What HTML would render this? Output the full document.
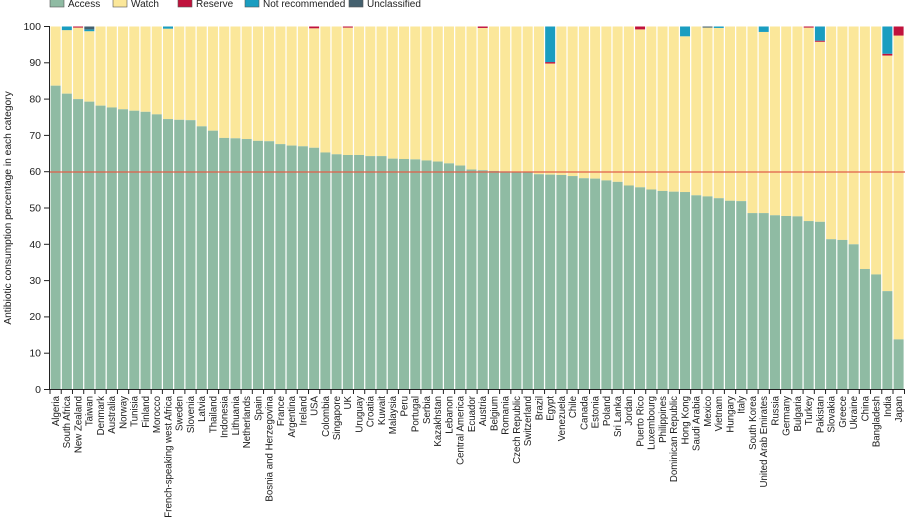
<!DOCTYPE html>
<html><head><meta charset="utf-8"><style>
body{margin:0;background:#fff;width:905px;height:518px;overflow:hidden}
svg{font-family:"Liberation Sans",sans-serif;display:block}
</style></head><body>
<svg id="s" width="905" height="518" viewBox="0 0 905 518">
<g id="bars"></g>
<line x1="49" y1="172" x2="905" y2="172" stroke="#e0604a" stroke-width="1.2"/>
<g stroke="#222" stroke-width="1">
<line x1="49.5" y1="26" x2="49.5" y2="390"/>
<line x1="49" y1="389.5" x2="905" y2="389.5"/>
</g>
<g id="yt" font-size="10.5" fill="#222" text-anchor="end">
<text x="41" y="30">100</text><text x="41" y="66">90</text><text x="41" y="102.5">80</text><text x="41" y="139">70</text><text x="41" y="175">60</text><text x="41" y="211.5">50</text><text x="41" y="248">40</text><text x="41" y="284">30</text><text x="41" y="320">20</text><text x="41" y="356.5">10</text><text x="41" y="393">0</text>
</g>
<g id="yticks" stroke="#222"></g>
<g id="xticks" stroke="#222"></g>
<text transform="translate(11,208) rotate(-90)" font-size="10.2" fill="#222" text-anchor="middle">Antibiotic consumption percentage in each category</text>
<g font-size="10" fill="#222">
<rect x="50" y="-2" width="14" height="9" fill="#8fbba3" stroke="#555" stroke-width="0.6"/><text x="68" y="7">Access</text>
<rect x="113" y="-2" width="14" height="9" fill="#fbe79a" stroke="#555" stroke-width="0.6"/><text x="131" y="7">Watch</text>
<rect x="178" y="-2" width="14" height="9" fill="#c0123c" stroke="#555" stroke-width="0.6"/><text x="196" y="7">Reserve</text>
<rect x="245" y="-2" width="14" height="9" fill="#1a9dc0" stroke="#555" stroke-width="0.6"/><text x="263" y="7">Not recommended</text>
<rect x="349" y="-2" width="14" height="9" fill="#44606e" stroke="#555" stroke-width="0.6"/><text x="367" y="7">Unclassified</text>
</g>
<g id="labels" font-size="9.7" fill="#222" text-anchor="end">
<text>Algeria</text><text>South Africa</text><text>New Zealand</text><text>Taiwan</text><text>Denmark</text><text>Australia</text><text>Norway</text><text>Tunisia</text><text>Finland</text><text>Morocco</text><text>French-speaking west Africa</text><text>Sweden</text><text>Slovenia</text><text>Latvia</text><text>Thailand</text><text>Indonesia</text><text>Lithuania</text><text>Netherlands</text><text>Spain</text><text>Bosnia and Herzegovina</text><text>France</text><text>Argentina</text><text>Ireland</text><text>USA</text><text>Colombia</text><text>Singapore</text><text>UK</text><text>Uruguay</text><text>Croatia</text><text>Kuwait</text><text>Malaysia</text><text>Peru</text><text>Portugal</text><text>Serbia</text><text>Kazakhstan</text><text>Lebanon</text><text>Central America</text><text>Ecuador</text><text>Austria</text><text>Belgium</text><text>Romania</text><text>Czech Republic</text><text>Switzerland</text><text>Brazil</text><text>Egypt</text><text>Venezuela</text><text>Chile</text><text>Canada</text><text>Estonia</text><text>Poland</text><text>Sri Lanka</text><text>Jordan</text><text>Puerto Rico</text><text>Luxembourg</text><text>Philippines</text><text>Dominican Republic</text><text>Hong Kong</text><text>Saudi Arabia</text><text>Mexico</text><text>Vietnam</text><text>Hungary</text><text>Italy</text><text>South Korea</text><text>United Arab Emirates</text><text>Russia</text><text>Germany</text><text>Bulgaria</text><text>Turkey</text><text>Pakistan</text><text>Slovakia</text><text>Greece</text><text>Ukraine</text><text>China</text><text>Bangladesh</text><text>India</text><text>Japan</text>
</g>
</svg>
<script>
(function(){
var acc=[83.7,81.5,80,79.3,78.2,77.7,77.2,76.8,76.5,75.8,74.5,74.3,74.2,72.5,71.3,69.3,69.2,69,68.5,68.4,67.6,67.2,67,66.6,65.3,64.8,64.6,64.6,64.3,64.3,63.6,63.5,63.4,63.1,62.8,62.3,61.7,60.6,60.4,60.2,60.1,60,59.8,59.3,59.2,59.1,58.8,58.2,58.1,57.6,57.2,56.2,55.7,55.1,54.7,54.5,54.4,53.5,53.2,52.7,52,51.9,48.6,48.6,48,47.8,47.7,46.4,46.2,41.4,41.2,40,33.2,31.7,27.1,13.8];
var ex={1:[0,1,0],2:[0.3,0,0],3:[0,0.5,0.8],10:[0,0.6,0],23:[0.5,0,0],44:[0.4,9.8,0],56:[0,2.7,0],58:[0,0,0.3],59:[0,0.4,0],63:[0,1.5,0],67:[0.3,0,0],68:[0.3,3.9,0],74:[0.5,7.5,0],75:[2.5,0,0],52:[0.8,0,0],38:[0.4,0,0],26:[0.3,0,0]};
function Y(v){return 389.5-v*3.63;}
var h="",xt="",yt="";
for(var i=0;i<76;i++){
 var x=50.6+i*11.24,w=10,a=acc[i],e=ex[i]||[0,0,0];
 var tp=100-e[0]-e[1]-e[2];
 h+='<rect x="'+x+'" y="'+Y(tp)+'" width="'+w+'" height="'+(tp-a)*3.63+'" fill="#fbe79a"/>';
 h+='<rect x="'+x+'" y="'+Y(a)+'" width="'+w+'" height="'+a*3.63+'" fill="#8fbba3"/>';
 var c=tp;
 if(e[0]){h+='<rect x="'+x+'" y="'+Y(c+e[0])+'" width="'+w+'" height="'+e[0]*3.63+'" fill="#c0123c"/>';c+=e[0];}
 if(e[1]){h+='<rect x="'+x+'" y="'+Y(c+e[1])+'" width="'+w+'" height="'+e[1]*3.63+'" fill="#1a9dc0"/>';c+=e[1];}
 if(e[2]){h+='<rect x="'+x+'" y="'+Y(c+e[2])+'" width="'+w+'" height="'+e[2]*3.63+'" fill="#44606e"/>';c+=e[2];}
 var tx=x-0.6;
 xt+='<line x1="'+tx+'" y1="389" x2="'+tx+'" y2="394"/>';
}
xt+='<line x1="904.5" y1="389" x2="904.5" y2="394"/>';
for(var k=0;k<=10;k++){var yy=389.5-k*36.3;yt+='<line x1="44" y1="'+yy+'" x2="49" y2="'+yy+'"/>';}
document.getElementById("bars").innerHTML=h;
document.getElementById("xticks").innerHTML=xt;
document.getElementById("yticks").innerHTML=yt;
var L=document.getElementById("labels").children;
for(var i=0;i<L.length;i++){var cx=50.6+i*11.24+5+3.4;L[i].setAttribute("transform","translate("+cx+",396) rotate(-90)");}
})();
</script>
</body></html>
